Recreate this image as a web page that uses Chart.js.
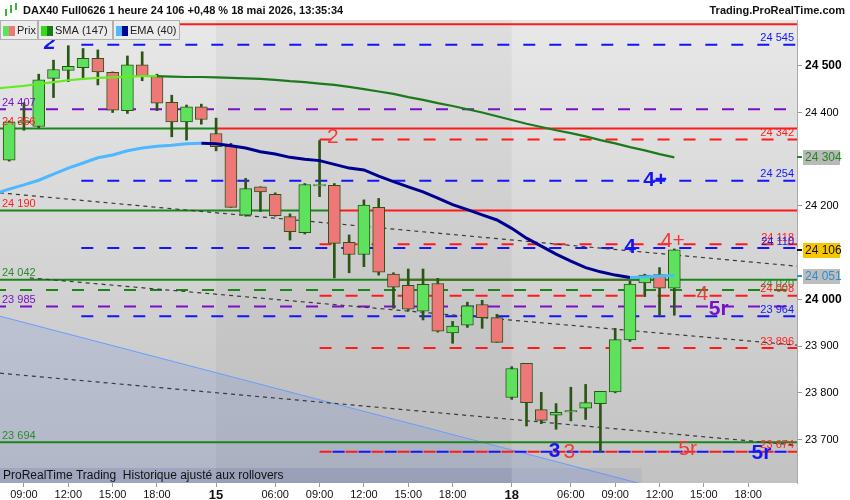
<!DOCTYPE html>
<html>
<head>
<meta charset="utf-8">
<script src="https://cdn.jsdelivr.net/npm/chart.js@4.4.0/dist/chart.umd.min.js"></script>
<style>
  html, body { margin: 0; padding: 0; background: #fff; }
  #c { display: block; }
</style>
</head>
<body>
<canvas id="c" width="850" height="500"></canvas>
<script>
/* =========================
   DATA
   ========================= */

// hourly candles, index 0 = 08:00 on the 14th
const opens  = [24298,24378,24370,24473,24490,24496,24516,24486,24404,24502,24477,24422,24380,24412,
                24355,24328,24180,24241,24225,24177,24143,24243,24244,24122,24096,24197,24054,24030,
                23975,24034,23928,23945,23989,23961,
                23790,23863,23764,23752,23759,23767,23777,23802,23913,24035,24053,24024];
const highs  = [24382,24421,24482,24512,24543,24537,24534,24487,24521,24530,24482,24437,24416,24418,
                24388,24334,24259,24241,24228,24183,24248,24340,24248,24138,24213,24216,24057,24065,
                24065,24045,23953,23994,23998,23968,
                23856,23863,23801,23777,23812,23818,23803,23938,24039,24054,24068,24108];
const lows   = [24296,24362,24367,24432,24466,24473,24459,24400,24398,24468,24404,24348,24341,24375,
                24318,24197,24178,24188,24178,24127,24140,24220,24046,24057,24070,24052,23981,23975,
                23956,23930,23906,23940,23938,23908,
                23786,23729,23734,23722,23740,23743,23674,23800,23910,24006,23966,23966];
const closes = [24380,24382,24470,24492,24499,24516,24487,24405,24502,24477,24420,24380,24412,24385,
                24327,24197,24237,24230,24179,24145,24246,24246,24120,24096,24202,24058,24026,23979,
                24032,23932,23943,23986,23961,23908,
                23852,23779,23741,23758,23762,23779,23803,23914,24033,24052,24024,24106];

// moving averages, first value belongs to the candle before index 0
const sma147 = [24451,24454,24457,24461,24465,24469,24472,24474,24475,24477,24478,24478,24477,24476,24476,
                24475,24474,24473,24472,24470,24467,24465,24462,24459,24455,24450,24445,24440,24433,
                24427,24420,24414,24407,24400,24392,24384,24376,24369,24362,24356,24349,24341,24334,
                24326,24319,24311,24304];
const ema40  = [24226,24236,24245,24255,24268,24281,24292,24303,24309,24318,24324,24328,24330,24333,24334,
                24333,24329,24324,24316,24311,24304,24300,24297,24289,24281,24277,24264,24252,24241,
                24230,24217,24203,24192,24181,24170,24152,24131,24114,24097,24082,24068,24059,24052,
                24047,24048,24050,24051];

// x axis tick labels (candle index of each label)
const xTickIdx    = [1, 4, 7, 10, 14, 18, 21, 24, 27, 30, 34, 38, 41, 44, 47, 50];
const xTickLabels = ["09:00","12:00","15:00","18:00","15","06:00","09:00","12:00","15:00","18:00",
                     "18","06:00","09:00","12:00","15:00","18:00"];
const dayLabels   = ["15", "18"];
const yTickValues = [23700, 23800, 23900, 24000, 24200, 24400, 24500];

// drawn price levels: value, first and last candle index covered
const levelValues = [24589, 24366, 24366, 24190, 24190, 24042, 24042, 23694,
                     24545, 24407, 24342, 24254, 24118, 24110, 24020, 24008, 23985, 23964, 23896, 23674, 23674];
const levelFrom   = [null, null, 14, null, 21.9, null, 26, null,
                     4, null, 21, 4, 21, 4, null, 21, null, 4, 21, 21, 21];
const levelTo     = [null, 14, null, 21.9, null, null, 44, null,
                     null, null, null, null, null, null, null, null, null, null, null, null, null];
const leftLabels  = [24407, 24366, 24190, 24042, 23985, 23694];
const rightLabels = [24545, 24342, 24254, 24118, 24110, 24020, 24008, 23964, 23896, 23674];

// trend lines as [candle index, price] end points
const trendA  = [[-0.62, 24228], [53.3, 24071]];
const trendB  = [[1.4, 24046], [53.3, 23902]];
const trendC  = [[-0.62, 23842], [53.3, 23688]];
const channel = [[-0.62, 23964], [53.3, 23518]];

// wave marks
const waveText  = ["2", "2", "4+", "4", "4+", "4", "5r", "3", "3", "5r", "5r"];
const waveIdx   = [2.75, 21.9, 43.7, 42.0, 44.9, 46.9, 48.0, 36.9, 37.9, 45.9, 50.9];
const wavePrice = [24549, 24347, 24255, 24112, 24125, 24011, 23979, 23675, 23673, 23679, 23671];

/* =========================
   STYLE
   ========================= */

const X_MIN = -0.62, X_MAX = 53.3;
const FONT = 'Arial, "Liberation Sans", sans-serif';
const BLUE = "#1515f5", RED = "#ff1a1a", GREEN = "#1a861a", PURPLE = "#7a10c8";
const WAVE_RED = "#f03a3a", TEXT_GREEN = "#2a8a2a", TEXT_RED = "#ff2020";
const levelLook = [
  [RED, 0], [GREEN, 0], [RED, 0], [GREEN, 0], [RED, 0], [GREEN, 0], [RED, 0], [GREEN, 0],
  [BLUE, 1], [PURPLE, 1], [RED, 1], [BLUE, 1], [RED, 1], [BLUE, 1], [GREEN, 1], [RED, 1],
  [PURPLE, 1], [BLUE, 1], [RED, 1], [RED, 1], [BLUE, 1]
];
const leftLabelColor  = [PURPLE, TEXT_RED, TEXT_RED, TEXT_GREEN, PURPLE, TEXT_GREEN];
const rightLabelColor = [BLUE, TEXT_RED, BLUE, TEXT_RED, BLUE, TEXT_GREEN, TEXT_RED, BLUE, TEXT_RED, TEXT_RED];
const waveColor = [BLUE, WAVE_RED, BLUE, BLUE, WAVE_RED, WAVE_RED, PURPLE, BLUE, WAVE_RED, WAVE_RED, BLUE];
const waveBold  = [1, 0, 1, 1, 0, 0, 1, 1, 0, 0, 1];

const fmt = n => String(Math.round(n)).replace(/\B(?=(\d{3})+(?!\d))/g, " ");
const pts = arr => arr.map(p => ({ x: p[0], y: p[1] }));

/* =========================
   DATASETS
   ========================= */

const datasets = [];

// regression channel shading
datasets.push({
  type: "line", data: pts(channel), borderColor: "#6b9cff", borderWidth: 1,
  backgroundColor: "rgba(80,110,230,0.14)", fill: "start", pointRadius: 0, order: 20
});

levelValues.forEach((v, i) => {
  const [color, dashed] = levelLook[i];
  const from = levelFrom[i] === null ? X_MIN : levelFrom[i];
  const to = levelTo[i] === null ? X_MAX : levelTo[i];
  datasets.push({
    type: "line", data: [{ x: from, y: v }, { x: to, y: v }],
    borderColor: color, borderWidth: 2, pointRadius: 0, fill: false,
    borderDash: dashed ? [12, 14] : [], borderDashOffset: color === BLUE ? 13 : (color === RED ? 0 : 6),
    order: dashed ? 15 : 14
  });
});

[trendA, trendB, trendC].forEach(t => datasets.push({
  type: "line", data: pts(t), borderColor: "#3a3a3a", borderWidth: 1.2,
  borderDash: [4, 4], pointRadius: 0, fill: false, order: 12
}));

// candle wicks then bodies
datasets.push({
  type: "bar", data: lows.map((l, i) => ({ x: i, y: [l, highs[i]] })),
  backgroundColor: "#2b5514", barThickness: 2, grouped: false, order: 6
});
datasets.push({
  type: "bar",
  data: opens.map((o, i) => {
    let lo = Math.min(o, closes[i]), hi = Math.max(o, closes[i]);
    if (hi - lo < 3) hi = lo + 3;
    return { x: i, y: [lo, hi] };
  }),
  backgroundColor: c => closes[c.dataIndex] >= opens[c.dataIndex] ? "#5ee25e" : "#ee7777",
  borderColor: "#2b5514", borderWidth: 1, borderSkipped: false,
  barThickness: 12, grouped: false, order: 5
});

// moving averages
datasets.push({
  type: "line", data: sma147.map((v, i) => ({ x: i - 1, y: v })),
  borderWidth: 2.2, pointRadius: 0, fill: false, order: 2,
  segment: { borderColor: c => c.p0DataIndex < 11 ? "#66ea22" : "#1c7a1c" }
});
datasets.push({
  type: "line", data: ema40.map((v, i) => ({ x: i - 1, y: v })),
  borderWidth: 3, pointRadius: 0, fill: false, order: 1,
  segment: { borderColor: c => (c.p0DataIndex < 14 || c.p0DataIndex >= 43) ? "#4db8ff" : "#000090" }
});

/* =========================
   DRAWING PLUGIN
   ========================= */

const decor = {
  id: "decor",
  beforeDraw(chart) {
    const { ctx, chartArea: a, scales: { x } } = chart;
    ctx.save();
    ctx.fillStyle = "#fff";
    ctx.fillRect(0, 0, chart.width, chart.height);
    const g = ctx.createLinearGradient(0, a.top, 0, a.bottom);
    g.addColorStop(0, "#e8e8e8");
    g.addColorStop(1, "#c2c2c2");
    ctx.fillStyle = g;
    ctx.fillRect(a.left, a.top, a.right - a.left, a.bottom - a.top);
    // friday session band
    const x1 = x.getPixelForValue(14), x2 = x.getPixelForValue(34);
    ctx.fillStyle = "rgba(0,0,0,0.04)";
    ctx.fillRect(x1, a.top, x2 - x1, a.bottom - a.top);
    ctx.restore();
  },
  afterDatasetsDraw(chart) {
    const { ctx, chartArea: a, scales: { y } } = chart;
    ctx.save();
    ctx.font = "11px " + FONT;
    ctx.textBaseline = "bottom";
    ctx.textAlign = "left";
    leftLabels.forEach((v, i) => {
      ctx.fillStyle = leftLabelColor[i];
      ctx.fillText(fmt(v), 2, y.getPixelForValue(v) - 1);
    });
    ctx.textAlign = "right";
    rightLabels.forEach((v, i) => {
      ctx.fillStyle = rightLabelColor[i];
      ctx.fillText(fmt(v), a.right - 3, y.getPixelForValue(v) - 1);
    });
    ctx.restore();
  },
  afterDraw(chart) {
    const { ctx, chartArea: a, scales: { x, y } } = chart;
    ctx.save();

    // wave marks
    ctx.textAlign = "center";
    ctx.textBaseline = "middle";
    waveText.forEach((t, i) => {
      ctx.font = (waveBold[i] ? "bold " : "") + (i === 0 ? "italic " : "") + "21px " + FONT;
      ctx.fillStyle = waveColor[i];
      ctx.fillText(t, x.getPixelForValue(waveIdx[i]), y.getPixelForValue(wavePrice[i]));
    });

    // bottom info strip
    ctx.fillStyle = "rgba(70,80,140,0.16)";
    ctx.fillRect(a.left, a.bottom - 15, x.getPixelForValue(34) - a.left, 15);
    ctx.fillStyle = "rgba(70,90,170,0.08)";
    ctx.fillRect(x.getPixelForValue(34), a.bottom - 15, 130, 15);
    ctx.fillStyle = "#111";
    ctx.font = "12px " + FONT;
    ctx.textAlign = "left";
    ctx.fillText("ProRealTime Trading  Historique ajusté aux rollovers", 3, a.bottom - 7);

    // value badges on the price axis
    const badge = (v, bg, fg) => {
      const py = Math.round(y.getPixelForValue(v));
      ctx.fillStyle = fg;
      ctx.fillRect(a.right, py - 1, 5, 2);
      ctx.fillStyle = bg;
      ctx.fillRect(a.right + 6, py - 7, 37, 15);
      ctx.fillStyle = fg;
      ctx.font = "12px " + FONT;
      ctx.textAlign = "left";
      ctx.fillText(fmt(v), a.right + 8, py + 1);
    };
    badge(sma147[sma147.length - 1], "#b9b9b9", "#1f8a1f");
    badge(closes[closes.length - 1], "#f7c600", "#111");
    badge(ema40[ema40.length - 1], "#bdbdbd", "#2c8fd0");

    // header
    ctx.fillStyle = "#fff";
    ctx.fillRect(0, 0, chart.width, 20);
    ctx.fillStyle = "#3bb53b";
    ctx.fillRect(5, 9, 2, 7); ctx.fillRect(10, 5, 2, 8); ctx.fillRect(15, 3, 2, 7);
    ctx.fillStyle = "#111";
    ctx.font = "bold 11px " + FONT;
    ctx.textAlign = "left";
    ctx.fillText("DAX40 Full0626 1 heure 24 106 +0,48 % 18 mai 2026, 13:35:34", 23, 11);
    ctx.textAlign = "right";
    ctx.fillText("Trading.ProRealTime.com", 845, 11);

    // legend tabs
    const tabs = [[0, 38, "Prix", "#5ee25e", "#ee7777"],
                  [38, 113, "SMA (147)", "#33dd11", "#1c7a1c"],
                  [113, 180, "EMA (40)", "#4db8ff", "#000090"]];
    tabs.forEach(([l, r, label, c1, c2]) => {
      ctx.fillStyle = "#ececec";
      ctx.fillRect(l, 20, r - l, 20);
      ctx.strokeStyle = "#b0b0b0";
      ctx.lineWidth = 1;
      ctx.strokeRect(l + 0.5, 20.5, r - l - 1, 19);
      ctx.fillStyle = c1; ctx.fillRect(l + 3, 26, 6, 10);
      ctx.fillStyle = c2; ctx.fillRect(l + 9, 26, 6, 10);
      ctx.fillStyle = "#222";
      ctx.font = "11px " + FONT;
      ctx.textAlign = "left";
      ctx.fillText(label, l + 17, 31);
    });
    ctx.restore();
  }
};

/* =========================
   CHART
   ========================= */

new Chart(document.getElementById("c"), {
  type: "bar",
  data: { datasets },
  plugins: [decor],
  options: {
    responsive: false,
    animation: false,
    devicePixelRatio: 1,
    layout: { padding: { top: 20, left: 0, right: 0, bottom: 0 } },
    plugins: { legend: { display: false }, tooltip: { enabled: false } },
    scales: {
      x: {
        type: "linear", min: X_MIN, max: X_MAX, offset: false,
        grid: { drawOnChartArea: false, tickLength: 4, color: "#999", offset: false },
        border: { display: false },
        afterBuildTicks: s => { s.ticks = xTickIdx.map(v => ({ value: v })); },
        afterFit: s => { s.height = 17; s.paddingLeft = 0; s.paddingRight = 0; },
        ticks: {
          autoSkip: false, maxRotation: 0, padding: 1, color: "#111",
          callback: v => xTickLabels[xTickIdx.indexOf(v)],
          font: c => {
            const lab = xTickLabels[xTickIdx.indexOf(c.tick && c.tick.value)];
            return dayLabels.includes(lab) ? { family: FONT, size: 13, weight: "bold" } : { family: FONT, size: 11 };
          }
        }
      },
      y: {
        position: "right", min: 23607, max: 24598,
        grid: { drawOnChartArea: false, tickLength: 5, color: "#999" },
        border: { color: "#aaa" },
        afterBuildTicks: s => { s.ticks = yTickValues.map(v => ({ value: v })); },
        afterFit: s => { s.width = 53; s.paddingTop = 0; s.paddingBottom = 0; },
        ticks: {
          padding: 3, color: "#000",
          callback: v => fmt(v),
          font: c => (c.tick && c.tick.value % 500 === 0)
            ? { family: FONT, size: 12, weight: "bold" } : { family: FONT, size: 11 }
        }
      }
    }
  }
});
</script>
</body>
</html>
